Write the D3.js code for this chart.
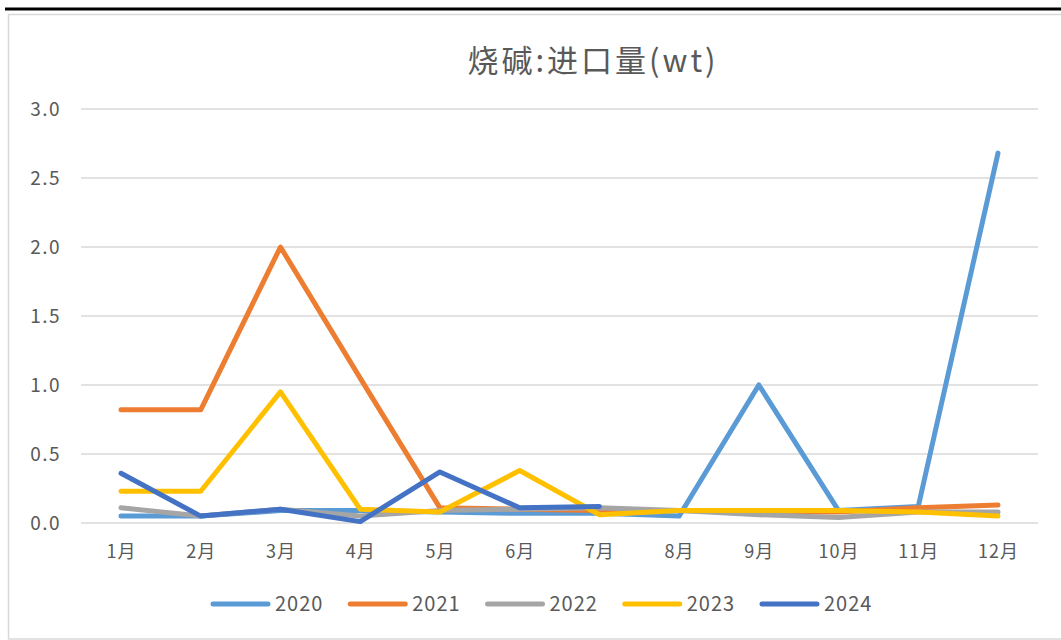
<!DOCTYPE html>
<html>
<head>
<meta charset="utf-8">
<script src="https://cdn.jsdelivr.net/npm/d3@7"></script>
<style>
  body { margin: 0; background: #fff; }
  text { font-family: "Noto Sans CJK SC", "Noto Sans", sans-serif; fill: #595959; }
</style>
</head>
<body>
<svg id="mychart"></svg>
<script>
const width = 1061
const height = 640
const margin = ({top: 109, right: 23, bottom: 117, left: 81})

const months = ["1月","2月","3月","4月","5月","6月","7月","8月","9月","10月","11月","12月"]
const yTicks = [0, 0.5, 1.0, 1.5, 2.0, 2.5, 3.0]
const years = ["2020","2021","2022","2023","2024"]
const colors = ["#5b9bd5","#ed7d31","#a5a5a5","#ffc000","#4472c4"]

const v2020 = [0.05, 0.05, 0.09, 0.09, 0.08, 0.07, 0.07, 0.05, 1.0, 0.09, 0.12, 2.68]
const v2021 = [0.82, 0.82, 2.0, 1.05, 0.11, 0.1, 0.09, 0.09, 0.08, 0.08, 0.11, 0.13]
const v2022 = [0.11, 0.05, 0.1, 0.05, 0.09, 0.1, 0.11, 0.09, 0.06, 0.04, 0.08, 0.08]
const v2023 = [0.23, 0.23, 0.95, 0.1, 0.08, 0.38, 0.06, 0.09, 0.09, 0.09, 0.08, 0.05]
const v2024 = [0.36, 0.05, 0.1, 0.01, 0.37, 0.11, 0.12]

const series = [v2020, v2021, v2022, v2023, v2024]

const x = d3.scalePoint()
    .domain(months)
    .range([121, 998])

const y = d3.scaleLinear()
    .domain([0, 3])
    .range([height - margin.bottom, margin.top])

function chart () {
    const svg = d3.select('#mychart')
        .attr('width', width).attr('height', height)
        .attr('viewBox', [0, 0, width, height])

    // top black rule and chart frame
    svg.append("line")
        .attr("x1", 5).attr("x2", width).attr("y1", 9).attr("y2", 9)
        .attr("stroke", "#000").attr("stroke-width", 3)
    svg.append("rect")
        .attr("x", 8.5).attr("y", 14.5).attr("width", width).attr("height", 624.5)
        .attr("fill", "none").attr("stroke", "#d9d9d9").attr("stroke-width", 1.5)

    // title
    svg.append("text")
        .attr("x", 593).attr("y", 72)
        .attr("text-anchor", "middle")
        .attr("font-size", 31)
        .attr("letter-spacing", 3)
        .text("烧碱:进口量(wt)")

    // gridlines
    svg.append("g")
        .selectAll("line")
        .data(yTicks)
        .join("line")
        .attr("x1", margin.left).attr("x2", width - margin.right)
        .attr("y1", d => y(d)).attr("y2", d => y(d))
        .attr("stroke", "#d9d9d9").attr("stroke-width", 1.5)

    // y axis
    svg.append("g")
        .attr("transform", `translate(61,0)`)
        .call(d3.axisLeft(y).tickValues(yTicks).tickFormat(d3.format(".1f")).tickSize(0))
        .call(g => g.select(".domain").remove())
        .call(g => g.selectAll("text")
            .attr("x", 0).attr("dy", "0.35em")
            .attr("font-size", 19).attr("letter-spacing", 1.5)
            .style("font-family", '"Noto Sans CJK SC", sans-serif').attr("fill", "#595959"))

    // x axis
    svg.append("g")
        .attr("transform", `translate(0,${y(0)})`)
        .call(d3.axisBottom(x).tickSize(0))
        .call(g => g.select(".domain").remove())
        .call(g => g.selectAll("text")
            .attr("y", 22).attr("dy", "0.71em")
            .attr("font-size", 18).attr("letter-spacing", 1)
            .style("font-family", '"Noto Sans CJK SC", sans-serif').attr("fill", "#595959"))

    const line = d3.line()
        .x((d, i) => x(months[i]))
        .y(d => y(d))

    svg.append("g")
        .selectAll("path")
        .data(series)
        .join("path")
        .attr("d", d => line(d))
        .attr("fill", "none")
        .attr("stroke", (d, i) => colors[i])
        .attr("stroke-width", 5)
        .attr("stroke-linejoin", "round")
        .attr("stroke-linecap", "round")

    // legend
    const lx = d3.scalePoint().domain(years).range([213, 762])
    const leg = svg.append("g")
        .selectAll("g")
        .data(years)
        .join("g")
        .attr("transform", d => `translate(${lx(d)},604)`)
    leg.append("line")
        .attr("x1", 0).attr("x2", 55)
        .attr("stroke", (d, i) => colors[i])
        .attr("stroke-width", 5)
        .attr("stroke-linecap", "round")
    leg.append("text")
        .attr("x", 62).attr("dy", "0.36em")
        .attr("font-size", 20).attr("letter-spacing", 1)
        .text(d => d)

    return svg.node()
}

chart()
</script>
</body>
</html>
